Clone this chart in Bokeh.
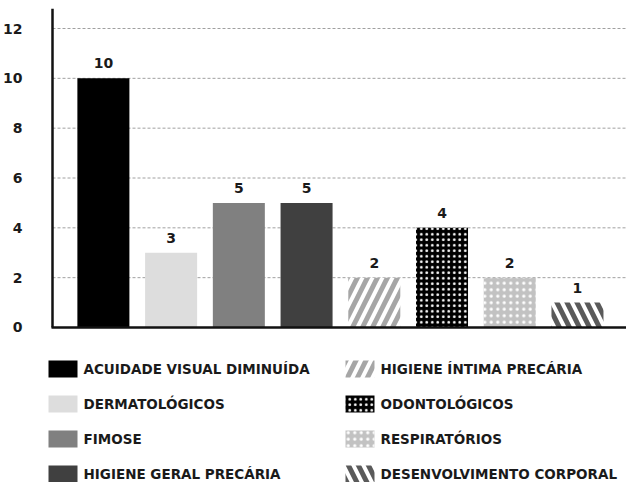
from bokeh.plotting import figure
from bokeh.models import ColumnDataSource, FixedTicker, Range1d
from bokeh.core.properties import value
from bokeh.embed import file_html
from bokeh.resources import INLINE

# ---- data ----
categories = ["ACUIDADE VISUAL DIMINUÍDA", "DERMATOLÓGICOS", "FIMOSE",
              "HIGIENE GERAL PRECÁRIA", "HIGIENE ÍNTIMA PRECÁRIA",
              "ODONTOLÓGICOS", "RESPIRATÓRIOS", "DESENVOLVIMENTO CORPORAL"]
counts = [10, 3, 5, 5, 2, 4, 2, 1]
y_ticks = [0, 2, 4, 6, 8, 10, 12]

# ---- styles ----
fills = ["#000000", "#dddddd", "#808080", "#404040", "#ffffff", "#000000", "#c2c2c2", "#ffffff"]
hatches = [" ", " ", " ", " ", "right_diagonal_line", "dot", "dot", "left_diagonal_line"]
hatch_colors = ["#000000", "#000000", "#000000", "#000000", "#a6a6a6", "#ffffff", "#ffffff", "#5a5a5a"]
hatch_scales = [10, 10, 10, 10, 20, 5.5, 6.5, 20]
hatch_weights = [1, 1, 1, 1, 5, 2, 2.5, 5]

FONT = "DejaVu Sans"
TXT = "#1a1a1a"

W, H = 626, 482
LEFT, TOP = 46, 8
X0, X1 = -0.84, 7.724          # category-index range across the frame
Y0, Y1 = -6.221, 12.803        # value range across the frame

idx = list(range(len(categories)))
src = ColumnDataSource(dict(
    x=idx, top=counts, label=[str(c) for c in counts], fill=fills,
    hatch=hatches, hcolor=hatch_colors, hscale=hatch_scales, hweight=hatch_weights,
))

p = figure(width=W, height=H, output_backend="svg", toolbar_location=None,
           x_range=Range1d(X0, X1), y_range=Range1d(Y0, Y1),
           min_border_left=LEFT, min_border_right=0, min_border_top=TOP, min_border_bottom=0)
p.outline_line_color = None
p.background_fill_color = "white"
p.xaxis.visible = False
p.grid.visible = False
# pixel-like ranges for axis lines and legend
p.extra_x_ranges = {"px": Range1d(LEFT, W)}
p.extra_y_ranges = {"py": Range1d(H, TOP)}

# gridlines (dashed), from the axis line to the right edge
p.segment(x0=52, x1=W, y0=y_ticks[1:], y1=y_ticks[1:], x_range_name="px",
          line_color="#a0a0a0", line_width=1, line_dash="3 2")

p.vbar(x="x", top="top", bottom=0, width=0.768, source=src,
       fill_color="fill", line_color=None,
       hatch_pattern="hatch", hatch_color="hcolor", hatch_scale="hscale", hatch_weight="hweight")

p.text(x="x", y="top", text="label", source=src, y_offset=-10,
       text_align="center", text_baseline="bottom",
       text_font=value(FONT), text_font_style="bold", text_font_size="14px", text_color=TXT)

# axis lines
p.segment(x0=[52], x1=[52], y0=[0], y1=[Y1], x_range_name="px",
          line_color="#111111", line_width=2.5)
p.segment(x0=[51], x1=[W], y0=[0], y1=[0], x_range_name="px",
          line_color="#111111", line_width=2.5)

# y tick labels
p.yaxis.ticker = FixedTicker(ticks=y_ticks)
p.yaxis.axis_line_color = None
p.yaxis.major_tick_line_color = None
p.yaxis.minor_tick_line_color = None
p.yaxis.major_label_standoff = 18
p.yaxis.major_label_text_font = FONT
p.yaxis.major_label_text_font_style = "bold"
p.yaxis.major_label_text_font_size = "14px"
p.yaxis.major_label_text_color = TXT

# ---- legend (pixel coordinates) ----
n = len(categories)
half = n // 2
sw_x = [62.5 if i < half else 359.5 for i in range(n)]
tx_x = [83 if i < half else 380 for i in range(n)]
row_y = [368.5 + 35 * (i % half) for i in range(n)]
lsrc = ColumnDataSource(dict(
    sx=sw_x, tx=tx_x, y=row_y, name=categories, fill=fills,
    hatch=hatches, hcolor=hatch_colors, hscale=hatch_scales, hweight=hatch_weights,
))
p.rect(x="sx", y="y", width=29, height=17, source=lsrc, fill_color="fill", line_color=None,
       hatch_pattern="hatch", hatch_color="hcolor", hatch_scale="hscale", hatch_weight="hweight",
       x_range_name="px", y_range_name="py")
p.text(x="tx", y="y", text="name", source=lsrc, text_align="left", text_baseline="middle",
       text_font=value(FONT), text_font_style="bold", text_font_size="13.5px", text_color=TXT,
       x_range_name="px", y_range_name="py")

open("out.html", "w").write(file_html(p, INLINE))
